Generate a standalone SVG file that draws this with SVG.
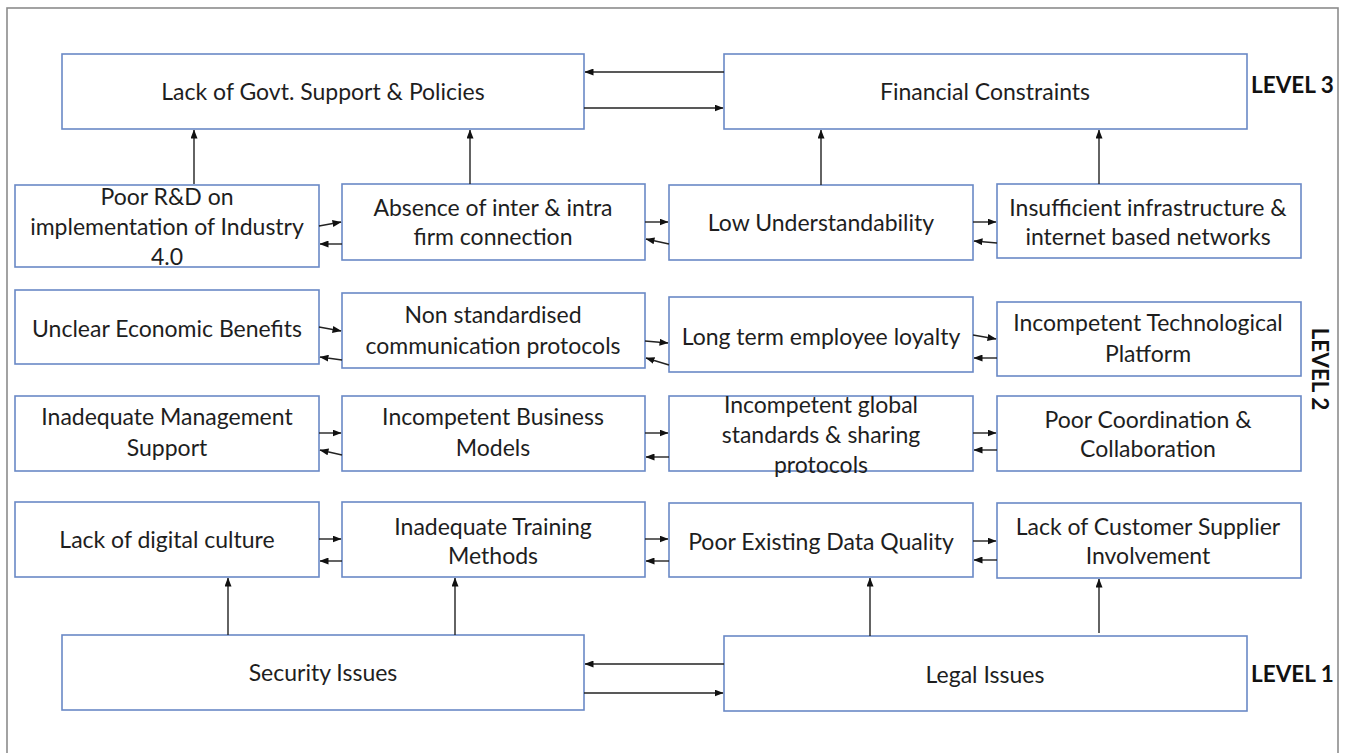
<svg xmlns="http://www.w3.org/2000/svg" width="1346" height="753" viewBox="0 0 1346 753">
<defs>
<style>
.box{fill:#fff;stroke:#6a89c6;stroke-width:1.6}
.t{font-family:Lato,"Liberation Sans",sans-serif;font-size:23px;fill:#1e1e1e;text-anchor:middle}
.lv{font-family:Lato,"Liberation Sans",sans-serif;font-size:22.5px;font-weight:bold;fill:#111}
.c line{stroke:#222;stroke-width:1.4;marker-end:url(#ah)}
</style>
<marker id="ah" markerUnits="userSpaceOnUse" markerWidth="9" markerHeight="7" refX="8.5" refY="3.5" orient="auto"><path d="M0,0 L9,3.5 L0,7 z" fill="#111"/></marker>
</defs>
<rect x="0" y="0" width="1346" height="753" fill="#fff"/>
<rect x="7" y="8" width="1331" height="760" fill="#fff" stroke="#8c8c8c" stroke-width="1.6"/>

<g id="govt"><rect class="box" x="62" y="54" width="522" height="75"/><text class="t" x="323" y="100">Lack of Govt. Support &amp; Policies</text></g>
<g id="financial"><rect class="box" x="724" y="54" width="523" height="75"/><text class="t" x="985" y="100">Financial Constraints</text></g>
<g id="rd"><rect class="box" x="15" y="185" width="304" height="82"/><text class="t" x="167" y="205">Poor R&amp;D on<tspan x="167" dy="30">implementation of Industry</tspan><tspan x="167" dy="30">4.0</tspan></text></g>
<g id="absence"><rect class="box" x="342" y="184" width="303" height="76"/><text class="t" x="493" y="216">Absence of inter &amp; intra<tspan x="493" dy="29">firm connection</tspan></text></g>
<g id="low"><rect class="box" x="669" y="185" width="304" height="75"/><text class="t" x="821" y="231">Low Understandability</text></g>
<g id="insufficient"><rect class="box" x="997" y="184" width="304" height="74"/><text class="t" x="1148" y="216">Insufficient infrastructure &amp;<tspan x="1148" dy="29">internet based networks</tspan></text></g>

<g id="unclear"><rect class="box" x="15" y="290" width="304" height="74"/><text class="t" x="167" y="337">Unclear Economic Benefits</text></g>
<g id="nonstd"><rect class="box" x="342" y="293" width="303" height="75"/><text class="t" x="493" y="323">Non standardised<tspan x="493" dy="30.5">communication protocols</tspan></text></g>
<g id="loyalty"><rect class="box" x="669" y="297" width="304" height="75"/><text class="t" x="821" y="345">Long term employee loyalty</text></g>
<g id="techplat"><rect class="box" x="997" y="302" width="304" height="74"/><text class="t" x="1148" y="331">Incompetent Technological<tspan x="1148" dy="31">Platform</tspan></text></g>

<g id="mgmt"><rect class="box" x="15" y="396" width="304" height="75"/><text class="t" x="167" y="425">Inadequate Management<tspan x="167" dy="31">Support</tspan></text></g>
<g id="business"><rect class="box" x="342" y="396" width="303" height="75"/><text class="t" x="493" y="425">Incompetent Business<tspan x="493" dy="31">Models</tspan></text></g>
<g id="global"><rect class="box" x="669" y="396" width="304" height="75"/><text class="t" x="821" y="413">Incompetent global<tspan x="821" dy="30">standards &amp; sharing</tspan><tspan x="821" dy="30">protocols</tspan></text></g>
<g id="coord"><rect class="box" x="997" y="396" width="304" height="75"/><text class="t" x="1148" y="428">Poor Coordination &amp;<tspan x="1148" dy="29">Collaboration</tspan></text></g>

<g id="digital"><rect class="box" x="15" y="502" width="304" height="75"/><text class="t" x="167" y="548">Lack of digital culture</text></g>
<g id="training"><rect class="box" x="342" y="502" width="303" height="75"/><text class="t" x="493" y="535">Inadequate Training<tspan x="493" dy="28.5">Methods</tspan></text></g>
<g id="dataq"><rect class="box" x="669" y="503" width="304" height="74"/><text class="t" x="821" y="550">Poor Existing Data Quality</text></g>
<g id="customer"><rect class="box" x="997" y="503" width="304" height="75"/><text class="t" x="1148" y="535">Lack of Customer Supplier<tspan x="1148" dy="28.5">Involvement</tspan></text></g>

<g id="security"><rect class="box" x="62" y="635" width="522" height="75"/><text class="t" x="323" y="681">Security Issues</text></g>
<g id="legal"><rect class="box" x="724" y="636" width="523" height="75"/><text class="t" x="985" y="683">Legal Issues</text></g>

<g id="labels">
<text class="lv" x="1251" y="93">LEVEL  3</text>
<text class="lv" x="1312" y="369" text-anchor="middle" transform="rotate(90 1312 369)">LEVEL  2</text>
<text class="lv" x="1251" y="682">LEVEL  1</text>
</g>

<g id="connectors" class="c">
<line x1="724" y1="72" x2="585" y2="72"/>
<line x1="584" y1="108" x2="723" y2="108"/>
<line x1="194" y1="184" x2="194" y2="130"/>
<line x1="470" y1="184" x2="470" y2="130"/>
<line x1="821" y1="185" x2="821" y2="130"/>
<line x1="1099" y1="184" x2="1099" y2="130"/>

<line x1="319" y1="226" x2="341" y2="222"/>
<line x1="342" y1="244" x2="320" y2="244"/>
<line x1="645" y1="222" x2="668" y2="222"/>
<line x1="669" y1="244" x2="646" y2="239"/>
<line x1="973" y1="222" x2="996" y2="222"/>
<line x1="997" y1="243" x2="974" y2="241"/>

<line x1="319" y1="327" x2="341" y2="331"/>
<line x1="342" y1="360" x2="320" y2="357"/>
<line x1="645" y1="341" x2="668" y2="343"/>
<line x1="669" y1="365" x2="646" y2="358"/>
<line x1="973" y1="335" x2="996" y2="339"/>
<line x1="997" y1="358" x2="974" y2="358"/>

<line x1="319" y1="433" x2="341" y2="433"/>
<line x1="342" y1="455" x2="320" y2="450"/>
<line x1="645" y1="433" x2="668" y2="433"/>
<line x1="669" y1="457" x2="646" y2="457"/>
<line x1="973" y1="433" x2="996" y2="433"/>
<line x1="997" y1="450" x2="974" y2="450"/>

<line x1="319" y1="539" x2="341" y2="539"/>
<line x1="342" y1="561" x2="320" y2="561"/>
<line x1="645" y1="539" x2="668" y2="539"/>
<line x1="669" y1="561" x2="646" y2="561"/>
<line x1="973" y1="541" x2="996" y2="541"/>
<line x1="997" y1="560" x2="974" y2="560"/>

<line x1="228" y1="635" x2="228" y2="578"/>
<line x1="455" y1="635" x2="455" y2="578"/>
<line x1="870" y1="636" x2="870" y2="578"/>
<line x1="1099" y1="633" x2="1099" y2="579"/>

<line x1="724" y1="664" x2="585" y2="664"/>
<line x1="584" y1="693" x2="723" y2="693"/>
</g>
</svg>
